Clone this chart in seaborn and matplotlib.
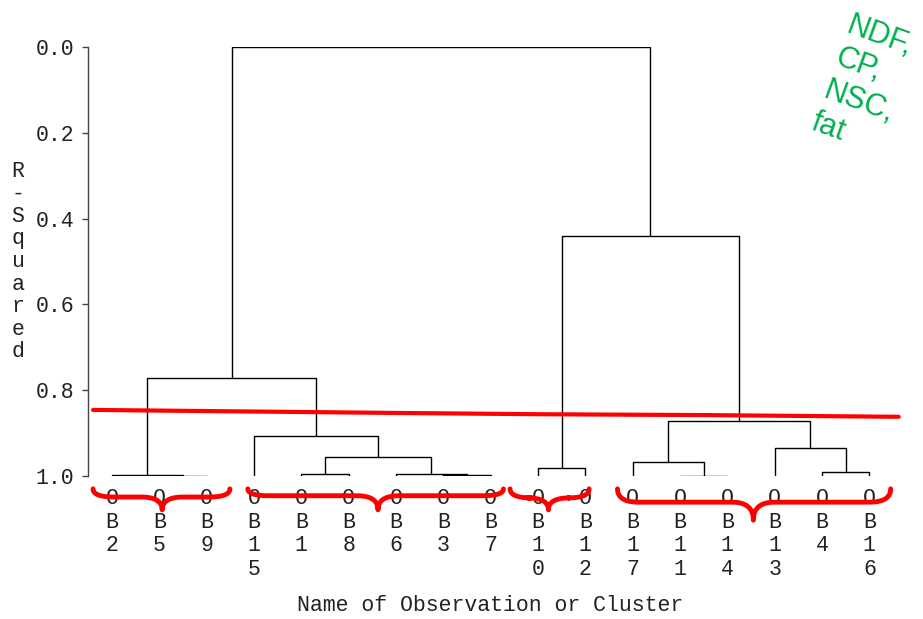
import numpy as np
import pandas as pd
import seaborn as sns
import matplotlib.pyplot as plt

# leaves in display order
LEAVES = ["OB2", "OB5", "OB9", "OB15", "OB1", "OB8", "OB6", "OB3", "OB7",
          "OB10", "OB12", "OB17", "OB11", "OB14", "OB13", "OB4", "OB16"]

# merge steps: cluster ids (leaves 0..16, new clusters numbered from 17)
MERGE_A = [1, 12, 7, 0, 4, 6, 15, 9, 11, 21, 14, 3, 25, 20, 24, 30]
MERGE_B = [2, 13, 8, 17, 5, 19, 16, 10, 18, 22, 23, 26, 27, 28, 29, 31]
RSQ = [0.999, 0.999, 0.998, 0.998, 0.996, 0.995, 0.991, 0.981,
       0.967, 0.956, 0.935, 0.907, 0.872, 0.772, 0.441, 0.0]

# hand drawn cut line (leaf units, R-squared)
CUT_X = [-0.40, 6.0, 9.0, 12.5, 16.62]
CUT_Y = [0.846, 0.853, 0.856, 0.858, 0.862]

# hand drawn braces: start, end, tip (leaf units)
BRACE_X = [(-0.40, 2.49, 1.06), (2.87, 8.27, 5.62), (8.41, 10.08, 9.22), (10.68, 16.45, 13.55)]
BRACE_Y = [(1.030, 1.049, 1.079), (1.030, 1.046, 1.079), (1.030, 1.051, 1.079), (1.030, 1.061, 1.103)]

MONO = ['Liberation Mono', 'DejaVu Sans Mono']
FS = 15.5
TXT = '#222222'

# ------------------------------------------------------------------
pos = {i: float(i) for i in range(len(LEAVES))}
hgt = {i: 1.0 for i in range(len(LEAVES))}
rows = []
for k, (a, b, h) in enumerate(zip(MERGE_A, MERGE_B, RSQ)):
    new = len(LEAVES) + k
    xs = [pos[a], pos[a], pos[b], pos[b]]
    ys = [hgt[a], h, h, hgt[b]]
    for x, y in zip(xs, ys):
        rows.append({'x': x, 'y': y, 'seg': k})
    pos[new] = (pos[a] + pos[b]) / 2
    hgt[new] = h
segs = pd.DataFrame(rows)

sns.set_style("white")
plt.rcParams['font.family'] = MONO

fig = plt.figure(figsize=(9.23, 6.19), dpi=100)
ax = fig.add_axes([88/923, 1 - 476/619, 805/923, 429/619])

sns.lineplot(data=segs, x='x', y='y', units='seg', estimator=None, sort=False,
             color='black', linewidth=1.0, ax=ax, legend=False)

ax.set_xlim(-0.507, 16.5)
ax.set_ylim(1.0, 0.0)

# axis styling
for s in ['top', 'right', 'bottom']:
    ax.spines[s].set_visible(False)
ax.spines['left'].set_color('#444444')
ax.spines['left'].set_linewidth(1.0)

yt = [0.0, 0.2, 0.4, 0.6, 0.8, 1.0]
ax.set_yticks(yt)
ax.set_yticklabels([f'{v:.1f}' for v in yt], fontsize=FS, color=TXT)
ax.tick_params(axis='y', direction='out', length=4, width=1, color='#444444', pad=6, left=True)

ax.set_xticks(range(len(LEAVES)))
ax.set_xticklabels(['\n'.join(lbl) for lbl in LEAVES], fontsize=FS, color=TXT,
                   linespacing=1.15, va='top')
ax.tick_params(axis='x', length=0, pad=9)

ax.set_ylabel('\n'.join('R-Squared'), rotation=0, fontsize=FS, color=TXT,
              linespacing=1.1, ha='center', va='center')
ax.yaxis.set_label_coords(-0.087, 0.5)
ax.set_xlabel('Name of Observation or Cluster', fontsize=FS, color=TXT)
ax.xaxis.set_label_coords(0.5, -0.302)
ax.xaxis.label.set_va('center')

# red cut line
ax.plot(CUT_X, CUT_Y, color='#ff0000', linewidth=3, clip_on=False, solid_capstyle='round')


def brace(x0, x1, xm, ye, yb, yt_, w=0.45):
    t = np.linspace(0, 1, 20)[:, None]

    def qb(p0, p1, p2):
        p0, p1, p2 = map(np.array, (p0, p1, p2))
        return (1 - t) ** 2 * p0 + 2 * (1 - t) * t * p1 + t ** 2 * p2
    parts = [
        qb((x0, ye), (x0, yb), (x0 + w, yb)),
        qb((xm - w, yb), (xm, yb), (xm, yt_)),
        qb((xm, yt_), (xm, yb), (xm + w, yb)),
        qb((x1 - w, yb), (x1, yb), (x1, ye)),
    ]
    pts = np.vstack(parts)
    return pts[:, 0], pts[:, 1]


for (x0, x1, xm), (ye, yb, ytp) in zip(BRACE_X, BRACE_Y):
    bx, by = brace(x0, x1, xm, ye, yb, ytp)
    ax.plot(bx, by, color='#ff0000', linewidth=3.5, clip_on=False,
            solid_capstyle='round', solid_joinstyle='round')

# green annotation
fig.text(853/923, 1 - 11/619, 'NDF,\nCP,\nNSC,\nfat', color='#00b050', fontsize=22,
         family=['Liberation Sans', 'DejaVu Sans'], rotation=-20, rotation_mode='anchor',
         ha='left', va='top', linespacing=1.18)

fig.savefig('out.png', dpi=100)
